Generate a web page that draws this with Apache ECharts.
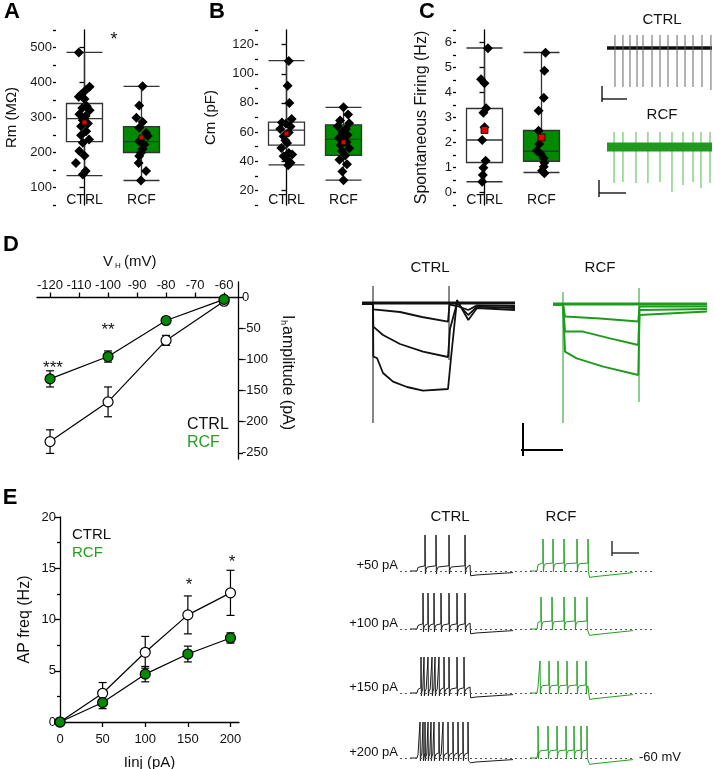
<!DOCTYPE html>
<html><head><meta charset="utf-8">
<script src="https://cdn.jsdelivr.net/npm/echarts@6/dist/echarts.min.js"></script>
<style>html,body{margin:0;padding:0;background:#fff}#c{width:714px;height:769px}</style>
</head><body><div id="c"></div>
<script>
// ================= DATA =================
const groups = ['CTRL', 'RCF'];
// A: Rm (MOhm)  box = [min, Q1, median, Q3, max]
const rmBoxCtrl = [134, 231, 297, 340, 486];
const rmBoxRcf = [120, 200, 231, 274, 389];
const rmMeans = [286, 243];
const rmTicks = [100, 200, 300, 400, 500];
const rmCtrl = [486,388,378,366,359,353,332,327,321,309,304,292,283,275,261,249,237,228,204,191,170,147,137];
const rmCtrlJit = [-0.1,0.09,0.02,-0.06,-0.1,0,0.04,-0.04,0.09,-0.09,0.02,-0.03,0.06,-0.06,0.03,-0.06,0.08,-0.03,-0.09,0,-0.15,0.02,-0.03];
const rmRcf = [389,334,299,287,271,256,247,232,223,210,199,190,170,147,120];
const rmRcfJit = [0.02,-0.04,-0.09,0.02,-0.04,0.08,0.11,-0.04,0.05,0.02,-0.01,-0.04,-0.05,0.08,-0.01];
// B: Cm (pF)
const cmBoxCtrl = [37.5, 51, 61.4, 66.8, 109];
const cmBoxRcf = [27, 44, 55, 65, 77];
const cmMeans = [59, 53];
const cmTicks = [20, 40, 60, 80, 100, 120];
const cmCtrl = [108.7,91.7,79.9,68.9,66.6,65.7,63.9,62.1,59.8,57.1,54.3,52.6,49.1,45.7,44.6,43.4,41.2,38.9,37.3];
const cmCtrlJit = [0.04,0.02,0.05,0.09,-0.08,-0.01,0.07,-0.11,0.04,-0.05,-0.02,0.01,-0.09,0.04,0.1,-0.05,0.01,0.07,0.03];
const cmRcf = [77,72,68,66,64,62,60,58,56,55,53,51,49,47,44,41,38,33,27];
const cmRcfJit = [0,0.08,-0.06,0.1,-0.1,0.04,-0.02,0.07,-0.08,0,0.05,-0.05,0.1,-0.03,0.03,-0.07,0.06,-0.02,0];
// C: spontaneous firing (Hz)
const sfBoxCtrl = [0.43, 1.2, 2.1, 3.36, 5.78];
const sfBoxRcf = [0.8, 1.25, 1.65, 2.48, 5.6];
const sfMeans = [2.5, 2.2];
const sfTicks = [0, 1, 2, 3, 4, 5, 6];
const sfCtrl = [5.77,4.53,4.37,3.37,3.19,2.61,2.1,1.27,0.99,0.7,0.43];
const sfCtrlJit = [0.06,-0.06,0,0.03,-0.02,0,-0.04,0.02,-0.02,-0.03,-0.04];
const sfRcf = [5.59,4.87,3.79,3.27,2.47,1.94,1.67,1.54,1.37,1.19,1.03,0.87,0.77];
const sfRcfJit = [0.07,0.05,0.04,-0.05,-0.05,-0.04,-0.08,-0.01,0.04,0.05,0.04,0.01,0.05];
// C traces: spike times (s) and spike depths
const spontTimesCtrl = [0.76,1.52,2.19,2.86,3.43,4.29,5.05,5.81,6.67,7.43,8.19,9.05,9.9];
const spontDepthCtrl = [-39,-39,-39,-39,-39,-39,-39,-39,-39,-39,-39,-39,-42];
const spontTimesRcf = [0.67,1.52,2.76,3.9,5.05,6.19,7.24,8.19,8.95,9.81];
const spontDepthRcf = [-36,-35,-36,-36,-35,-45,-38,-35,-41,-36];
// D: Ih I-V
const vhTicks = [-120,-110,-100,-90,-80,-70,-60];
const ihTicks = [0,-50,-100,-150,-200,-250];
const ivV = [-120,-100,-80,-60];
const ivCtrl = [-232,-168,-69,-6];
const ivCtrlErr = [19,24,8,3];
const ivRcf = [-131,-95,-37,-3];
const ivRcfErr = [13,9,4,2];
// D traces (time ms, current pA)
const ihCtrlTraces = [
  [[0,0],[1530,0]],
  [[0,-3],[110,-3],[113,-32],[380,-45],[600,-70],[860,-93],[875,-8],[950,-15],[1063,-35],[1150,-12],[1530,-15]],
  [[0,-4],[110,-4],[113,-118],[210,-160],[380,-205],[610,-243],[860,-270],[880,-130],[950,0],[1063,-60],[1150,-18],[1530,-25]],
  [[0,-5],[110,-5],[113,-268],[150,-275],[210,-350],[310,-393],[450,-420],[610,-438],[860,-430],[895,-250],[950,15],[1063,-85],[1150,-25],[1530,-35]]
];
const ihCtrlArtifacts = [[[110,85],[110,-600]], [[870,85],[870,-285]]];
const ihRcfTraces = [
  [[0,0],[1540,0]],
  [[0,-2],[100,-2],[120,-63],[470,-72],[853,-88],[865,-13],[1540,-12]],
  [[0,-3],[100,-3],[120,-138],[300,-138],[570,-172],[853,-205],[865,-30],[1540,-25]],
  [[0,-4],[100,-4],[120,-238],[237,-272],[503,-313],[853,-355],[865,-55],[1540,-37]]
];
const ihRcfArtifacts = [[[100,60],[100,-595]], [[860,80],[860,-490]]];
// E: AP frequency
const iinj = [0,50,100,150,200];
const iinjTicks = [0,50,100,150,200];
const apCtrl = [0,2.8,6.8,10.45,12.6];
const apCtrlErr = [0,1.05,1.55,1.85,2.2];
const apRcf = [0,1.9,4.67,6.63,8.2];
const apRcfErr = [0,0.6,0.75,0.77,0.5];
// E traces: spike times (ms) per current step
const stepLabels = ['+50 pA','+100 pA','+150 pA','+200 pA'];
const apCtrlSpikes = [
  [250,360,490,650],
  [230,280,340,410,490,570,650],
  [210,240,280,320,350,390,440,490,570,640],
  [200,230,250,280,310,340,390,430,480,530,580,630,680]
];
const apRcfSpikes = [
  [230,330,440,570,680],
  [210,320,440,550,670],
  [200,290,380,470,570,660],
  [180,280,370,460,540,610,670]
];

// ================= BUILD =================
const FONT = 'Arial, "Liberation Sans", Helvetica, sans-serif';
const GREEN_BOX = '#008a00';
const GREEN_TXT = '#22a022';
const grids = [], xAxes = [], yAxes = [], series = [], gfx = [];

function addGrid(g){ grids.push(Object.assign({outerBoundsMode:'none', containLabel:false}, g)); return grids.length - 1; }
function lineStyleAx(){ return {color:'#000', width:1.3}; }

function boxPanel(cfg){
  const gi = addGrid({left:cfg.left, top:30, width:114, height:175});
  const xc = xAxes.push({gridIndex:gi, type:'category', data:groups, offset:-13,
    axisLine:{show:false}, axisTick:{show:false},
    axisLabel:{fontSize:14, color:'#111', fontFamily:FONT, margin:1}}) - 1;
  const xv = xAxes.push({gridIndex:gi, type:'value', min:-0.5, max:1.5, show:false}) - 1;
  const ym = yAxes.push({gridIndex:gi, type:'value', position:'left', min:cfg.min, max:cfg.max,
    axisLine:{show:true, lineStyle:lineStyleAx()},
    axisTick:{show:true, length:5, customValues:cfg.ticks, lineStyle:lineStyleAx()},
    axisLabel:{customValues:cfg.ticks, fontSize:13, color:'#1a1a1a', fontFamily:FONT, margin:4},
    splitLine:{show:false},
    name:cfg.name, nameLocation:'middle', nameGap:cfg.nameGap,
    nameTextStyle:{fontSize:cfg.nameSize, color:'#111', fontFamily:FONT}}) - 1;
  yAxes.push({gridIndex:gi, type:'value', position:'left', min:cfg.min, max:cfg.max, interval:cfg.minor,
    axisLine:{show:false}, axisTick:{show:true, length:3, lineStyle:lineStyleAx()},
    axisLabel:{show:false}, splitLine:{show:false}});
  series.push({type:'boxplot', xAxisIndex:xc, yAxisIndex:ym, boxWidth:[36,36], silent:true,
    itemStyle:{borderColor:'#333', borderWidth:1.3},
    data:[{value:cfg.boxC, itemStyle:{color:'#fff'}}, {value:cfg.boxR, itemStyle:{color:GREEN_BOX}}]});
  series.push({type:'scatter', xAxisIndex:xv, yAxisIndex:ym, symbol:'diamond', symbolSize:10, silent:true, z:3,
    itemStyle:{color:'#000', opacity:1},
    data: cfg.ptsC.map((v,i)=>[cfg.jitC[i], v]).concat(cfg.ptsR.map((v,i)=>[1+cfg.jitR[i], v]))});
  series.push({type:'scatter', xAxisIndex:xv, yAxisIndex:ym, symbol:'rect', symbolSize:cfg.meanSize, silent:true, z:4,
    itemStyle:{color:'#e00000', borderColor:'#000', borderWidth:0.8, opacity:1},
    data: cfg.means.map((m,i)=>[i, m])});
}

boxPanel({left:56, min:50, max:550, ticks:rmTicks, minor:50, name:'Rm (MΩ)', nameGap:37, nameSize:15,
  boxC:rmBoxCtrl, boxR:rmBoxRcf, ptsC:rmCtrl, jitC:rmCtrlJit, ptsR:rmRcf, jitR:rmRcfJit, means:rmMeans, meanSize:5});
boxPanel({left:258, min:10, max:130, ticks:cmTicks, minor:10, name:'Cm (pF)', nameGap:40, nameSize:15,
  boxC:cmBoxCtrl, boxR:cmBoxRcf, ptsC:cmCtrl, jitC:cmCtrlJit, ptsR:cmRcf, jitR:cmRcfJit, means:cmMeans, meanSize:5});
boxPanel({left:456, min:-0.5, max:6.5, ticks:sfTicks, minor:0.5, name:'Spontaneous Firing (Hz)', nameGap:26, nameSize:16,
  boxC:sfBoxCtrl, boxR:sfBoxRcf, ptsC:sfCtrl, jitC:sfCtrlJit, ptsR:sfRcf, jitR:sfRcfJit, means:sfMeans, meanSize:7});

function traceGrid(left, top, width, height, xmin, xmax, ymin, ymax){
  const gi = addGrid({left, top, width, height});
  const xi = xAxes.push({gridIndex:gi, type:'value', min:xmin, max:xmax, show:false}) - 1;
  const yi = yAxes.push({gridIndex:gi, type:'value', min:ymin, max:ymax, show:false}) - 1;
  return {xi, yi};
}
function lineS(ax, data, color, width, extra){
  return Object.assign({type:'line', xAxisIndex:ax.xi, yAxisIndex:ax.yi, data, symbol:'none', silent:true,
    connectNulls:false, lineStyle:{color, width}}, extra || {});
}
function spikeData(times, depths, up){
  const d = [];
  times.forEach((t,i)=>{ d.push([t, up], [t, depths[i]], [t, '-']); });
  return d;
}

// C traces
const cC = traceGrid(607, 28, 105, 70, 0, 10, -50, 20);
series.push(lineS(cC, [[0,0],[10,0]], '#111', 3.5));
series.push(lineS(cC, spikeData(spontTimesCtrl, spontDepthCtrl, 13), '#666', 1));
const cR = traceGrid(607, 127, 105, 70, 0, 10, -50, 20);
series.push(lineS(cR, spikeData(spontTimesRcf, spontDepthRcf, 15), '#4cbb4c', 1));
series.push(lineS(cR, [[0,0],[10,0]], '#1f9a1f', 9));

// D IV plot
function errSeries(xi, yi, xs, ys, errs, capW){
  return {type:'custom', xAxisIndex:xi, yAxisIndex:yi, silent:true, z:1, encode:{x:0, y:[1,2]},
    data: xs.map((x,i)=>[x, ys[i]-errs[i], ys[i]+errs[i]]),
    renderItem:(params, api)=>{
      const lo = api.coord([api.value(0), api.value(1)]);
      const hi = api.coord([api.value(0), api.value(2)]);
      const h = capW/2, st = {stroke:'#000', lineWidth:1.2};
      return {type:'group', children:[
        {type:'line', shape:{x1:lo[0], y1:lo[1], x2:hi[0], y2:hi[1]}, style:st},
        {type:'line', shape:{x1:lo[0]-h, y1:lo[1], x2:lo[0]+h, y2:lo[1]}, style:st},
        {type:'line', shape:{x1:hi[0]-h, y1:hi[1], x2:hi[0]+h, y2:hi[1]}, style:st}]};
    }};
}
const gD = addGrid({left:37, top:282, width:201, height:177});
const xD = xAxes.push({gridIndex:gD, type:'value', position:'top', min:-124.5, max:-55.2,
  axisLine:{onZero:true, lineStyle:lineStyleAx()},
  axisTick:{customValues:vhTicks, length:5, lineStyle:lineStyleAx()},
  axisLabel:{customValues:vhTicks, fontSize:13, color:'#111', fontFamily:FONT, margin:-10},
  splitLine:{show:false}}) - 1;
const yD = yAxes.push({gridIndex:gD, type:'value', position:'right', min:-260, max:25,
  axisLine:{onZero:false, lineStyle:lineStyleAx()},
  axisTick:{customValues:ihTicks, length:5, lineStyle:lineStyleAx()},
  axisLabel:{customValues:ihTicks, fontSize:13, color:'#111', fontFamily:FONT, margin:4},
  splitLine:{show:false}}) - 1;
series.push(errSeries(xD, yD, ivV, ivCtrl, ivCtrlErr, 8));
series.push(errSeries(xD, yD, ivV, ivRcf, ivRcfErr, 8));
series.push({type:'line', xAxisIndex:xD, yAxisIndex:yD, data:ivV.map((v,i)=>[v, ivCtrl[i]]), symbol:'circle', symbolSize:10,
  silent:true, lineStyle:{color:'#000', width:1.2}, itemStyle:{color:'#fff', borderColor:'#000', borderWidth:1.2}, z:3});
series.push({type:'line', xAxisIndex:xD, yAxisIndex:yD, data:ivV.map((v,i)=>[v, ivRcf[i]]), symbol:'circle', symbolSize:10,
  silent:true, lineStyle:{color:'#000', width:1.2}, itemStyle:{color:GREEN_BOX, borderColor:'#000', borderWidth:1.2}, z:3});

// D traces
const dC = traceGrid(362, 283, 153, 150, 0, 1530, -650, 100);
ihCtrlTraces.forEach((tr,i)=>series.push(lineS(dC, tr, '#111', i===0 ? 3 : 1.8)));
ihCtrlArtifacts.forEach(tr=>series.push(lineS(dC, tr, '#111', 1)));
const dR = traceGrid(553, 284, 154, 150, 0, 1540, -650, 100);
ihRcfTraces.forEach((tr,i)=>series.push(lineS(dR, tr, '#1d9b1d', i===0 ? 3 : 2)));
ihRcfArtifacts.forEach(tr=>series.push(lineS(dR, tr, '#1d9b1d', 1)));

// E plot
const gE = addGrid({left:60, top:517, width:179, height:205});
const xE = xAxes.push({gridIndex:gE, type:'value', min:0, max:210,
  axisLine:{onZero:false, lineStyle:lineStyleAx()},
  axisTick:{customValues:iinjTicks, length:5, lineStyle:lineStyleAx()},
  axisLabel:{customValues:iinjTicks, fontSize:13, color:'#111', fontFamily:FONT, margin:11},
  splitLine:{show:false},
  name:'Iinj (pA)', nameLocation:'middle', nameGap:33, nameTextStyle:{fontSize:15, color:'#111', fontFamily:FONT}}) - 1;
const yE = yAxes.push({gridIndex:gE, type:'value', min:0, max:20, interval:5,
  axisLine:{show:true, onZero:false, lineStyle:lineStyleAx()},
  axisTick:{show:true, length:5, lineStyle:lineStyleAx()},
  minorTick:{show:true, splitNumber:2, length:3, lineStyle:lineStyleAx()},
  axisLabel:{fontSize:13, color:'#111', fontFamily:FONT, margin:4},
  splitLine:{show:false}, minorSplitLine:{show:false},
  name:'AP freq (Hz)', nameLocation:'middle', nameGap:27, nameTextStyle:{fontSize:16, color:'#111', fontFamily:FONT}}) - 1;
series.push(errSeries(xE, yE, iinj, apCtrl, apCtrlErr, 8));
series.push(errSeries(xE, yE, iinj, apRcf, apRcfErr, 8));
series.push({type:'line', xAxisIndex:xE, yAxisIndex:yE, data:iinj.map((v,i)=>[v, apCtrl[i]]), symbol:'circle', symbolSize:10,
  silent:true, lineStyle:{color:'#000', width:1.2}, itemStyle:{color:'#fff', borderColor:'#000', borderWidth:1.2}, z:3});
series.push({type:'line', xAxisIndex:xE, yAxisIndex:yE, data:iinj.map((v,i)=>[v, apRcf[i]]), symbol:'circle', symbolSize:10,
  silent:true, lineStyle:{color:'#000', width:1.2}, itemStyle:{color:GREEN_BOX, borderColor:'#000', borderWidth:1.2}, z:3});

// E traces
const ctrlShape = {start:100, on:170, off:700, end:1130, thr:-47, peak:30, trough:-67, mid:-50, ahp:-72, rest:-64};
const rcfShape  = {start:100, on:170, off:690, end:1130, thr:-40, peak:20, trough:-62, mid:-42, ahp:-76, rest:-64};
function apTrace(spk, s){
  const d = [[s.start,-60],[s.on,-60],[s.on+10, s.thr-4]];
  spk.forEach((t,i)=>{
    d.push([t-1, s.thr], [t, s.peak], [t+4, s.trough]);
    const next = i < spk.length-1 ? spk[i+1] : s.off;
    const g = next - t;
    if (g > 20) d.push([t+Math.min(10, g*0.3), s.mid-6], [t+Math.min(22, g*0.6), s.mid]);
  });
  if (s.off - spk[spk.length-1] > 20) d.push([s.off, s.thr+2]);
  d.push([s.off+6, s.ahp], [s.off+60, s.ahp+2], [s.end, s.rest]);
  return d;
}
const rowBase = [571, 629, 693, 758];
const dotted = {type:[2,3], color:'#555', width:1};
rowBase.forEach((yb, r)=>{
  const eC = traceGrid(400, yb-40, 120, 50, 0, 1200, -85, 40);
  series.push(lineS(eC, apTrace(apCtrlSpikes[r], ctrlShape), '#1a1a1a', 1, {
    markLine:{silent:true, symbol:'none', label:{show:false}, lineStyle:dotted,
      data:[[{coord:[0,-60]},{coord:[1200,-60]}]]}}));
  const eR = traceGrid(520, yb-40, 135, 50, 0, 1350, -85, 40);
  series.push(lineS(eR, apTrace(apRcfSpikes[r], rcfShape), '#22a022', 1, {
    markLine:{silent:true, symbol:'none', label:{show:false}, lineStyle:dotted,
      data:[[{coord:[0,-60]},{coord:[r===3 ? 1120 : 1350,-60]}]]}}));
  gfx.push({type:'text', x:398, y:yb-6, style:{text:stepLabels[r], fontSize:13, fontFamily:FONT, fill:'#111', align:'right', verticalAlign:'middle'}});
});

// ================= TEXT / ANNOTATIONS =================
function T(x, y, text, o){
  return {type:'text', x, y, silent:true, style:Object.assign({text, fontSize:15, fontFamily:FONT, fill:'#111', align:'center', verticalAlign:'middle'}, o || {})};
}
function L(x1, y1, x2, y2, w, c){
  return {type:'line', silent:true, shape:{x1, y1, x2, y2}, style:{stroke:c || '#000', lineWidth:w || 1.5}};
}
const bold = {fontSize:22, fontWeight:'bold', fill:'#000'};
gfx.push(T(12,12,'A',bold), T(217,12,'B',bold), T(427,12,'C',bold), T(11,245,'D',bold), T(10,498,'E',bold));
gfx.push(T(114,40,'*',{fontSize:18}));
gfx.push(T(662,20,'CTRL'), T(662,115,'RCF'));
gfx.push(L(602,86,602,102,1.3), L(602,99,627,99,1.3), L(599,180,599,197,1.3), L(599,193,626,193,1.3));
// D labels
gfx.push(T(103,262,'V',{align:'left'}), T(115,266,'H',{fontSize:8, align:'left'}), T(124,262,'(mV)',{align:'left'}));
gfx.push({type:'group', x:287, y:315, rotation:-Math.PI/2, silent:true, children:[
  T(0,0,'I',{align:'left', fontSize:16}), T(5,4,'h',{align:'left', fontSize:9}), T(11,0,'amplitude (pA)',{align:'left', fontSize:16})]});
gfx.push(T(108,330,'**',{fontSize:17}), T(53,368,'***',{fontSize:17}));
gfx.push(T(187,425,'CTRL',{align:'left', fontSize:16}), T(187,443,'RCF',{align:'left', fontSize:16, fill:GREEN_TXT}));
gfx.push(T(430,268,'CTRL'), T(600,268,'RCF'));
gfx.push(L(523,423,523,456,2), L(521,450,563,450,2));
// E labels
gfx.push(T(189,585,'*',{fontSize:17}), T(232,562,'*',{fontSize:17}));
gfx.push(T(72,535,'CTRL',{align:'left'}), T(72,553,'RCF',{align:'left', fill:GREEN_TXT}));
gfx.push(T(450,517,'CTRL'), T(561,517,'RCF'));
gfx.push(T(639,757,'-60 mV',{align:'left', fontSize:13}));
gfx.push(L(612,541,612,556,1.5,'#333'), L(612,553,639,553,1.5,'#333'));

const chart = echarts.init(document.getElementById('c'));
chart.setOption({
  animation:false,
  backgroundColor:'#fff',
  textStyle:{fontFamily:FONT},
  grid:grids, xAxis:xAxes, yAxis:yAxes, series:series,
  graphic:{elements:gfx}
});
</script></body></html>
